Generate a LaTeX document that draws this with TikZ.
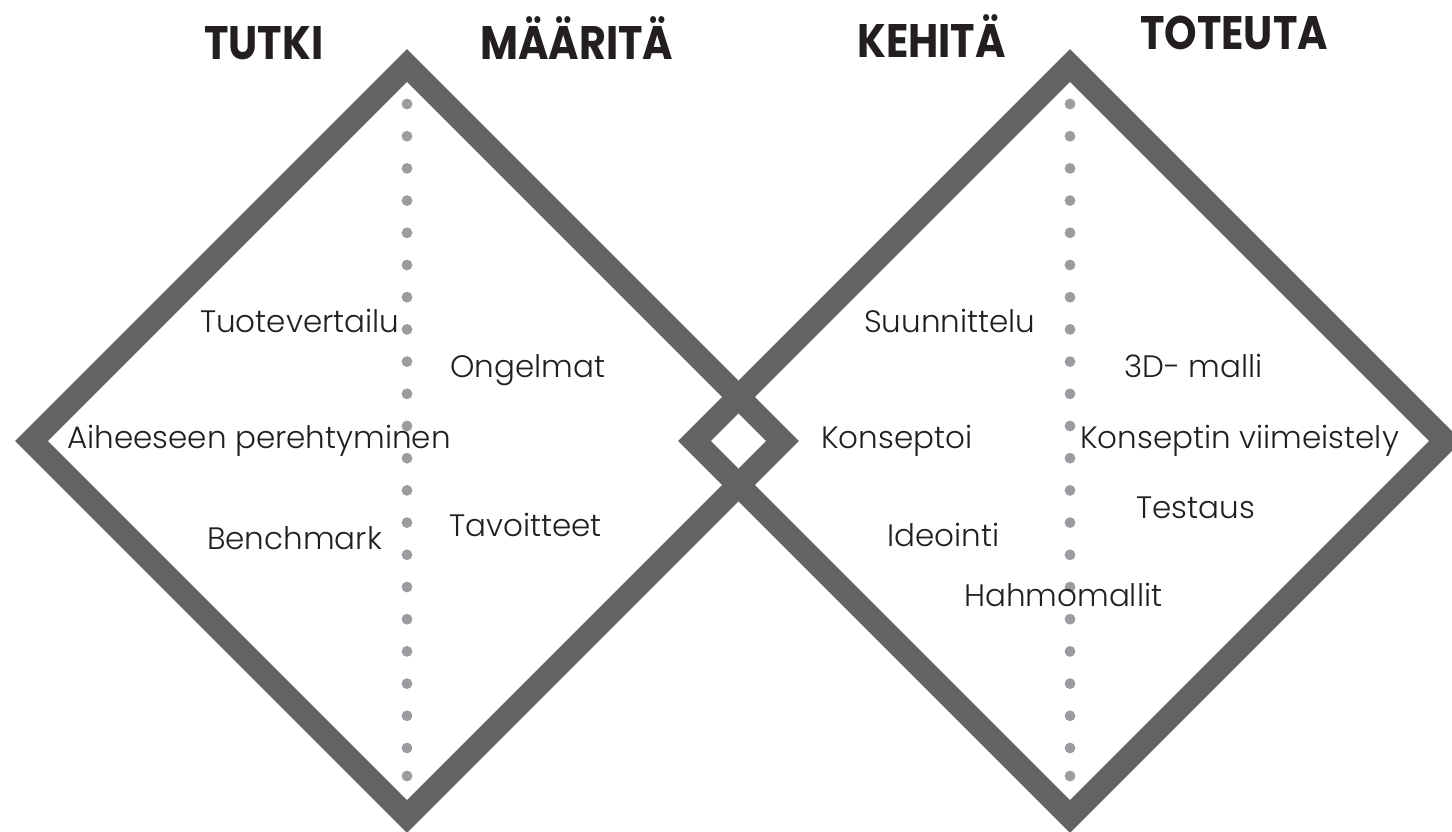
\documentclass[tikz,border=0pt]{standalone}
\usepackage{fontspec}
\setmainfont{Poppins}
\newfontfamily\itemfont{Poppins Light}
\usepackage{tikz}
\usetikzlibrary{positioning,calc}
\definecolor{framegray}{RGB}{99,99,101}
\definecolor{dotgray}{RGB}{155,155,160}
\definecolor{inkgray}{RGB}{35,31,32}
\newcommand{\phasetitle}[1]{\scalebox{0.88}[1]{#1}}

\begin{document}
\begin{tikzpicture}[
    x=1pt, y=-1pt,
    diamondline/.style={draw=framegray, line width=23.3pt, line join=miter, miter limit=10},
    dotmark/.style={fill=dotgray},
    headtext/.style={inner sep=0pt, anchor=base west, text=inkgray, font=\fontsize{47}{50}\selectfont\bfseries},
    itemtext/.style={inner sep=0pt, anchor=base west, text=inkgray, font=\itemfont\fontsize{31}{36}\selectfont}
  ]
  \useasboundingbox (0,0) rectangle (1452,832);

  \coordinate (tutcenter) at (407,441);
  \coordinate (kehcenter) at (1070,441);

  \draw[diamondline] ($(tutcenter)+(0,-375.5)$) -- ($(tutcenter)+(375.5,0)$) -- ($(tutcenter)+(0,375.5)$) -- ($(tutcenter)+(-375.5,0)$) -- cycle;
  \draw[diamondline] ($(kehcenter)+(0,-375.5)$) -- ($(kehcenter)+(375.5,0)$) -- ($(kehcenter)+(0,375.5)$) -- ($(kehcenter)+(-375.5,0)$) -- cycle;

  \foreach \k in {0,...,20} {
    \fill[dotmark] ($(tutcenter)+(0,-337+32.2*\k)$) circle (5.4);
    \fill[dotmark] ($(kehcenter)+(0,-337+32.2*\k)$) circle (5.4);
  }
  \fill[dotmark] ($(tutcenter)+(0,335)$) circle (5.4);
  \fill[dotmark] ($(kehcenter)+(0,335)$) circle (5.4);

  \node[headtext] (tutki) at (204,60) {\phasetitle{TUTKI}};
  \node[headtext] (maarita) at (480,60) {\phasetitle{MÄÄRITÄ}};
  \node[headtext] (kehita) at (857,58) {\phasetitle{KEHITÄ}};
  \node[headtext] (toteuta) at (1140,50) {\phasetitle{TOTEUTA}};

  \node[itemtext] (tuote) at (200,332) {Tuotevertailu};
  \node[itemtext] (ongelmat) at (450,377) {Ongelmat};
  \node[itemtext] (aihe) at (67,448) {Aiheeseen perehtyminen};
  \node[itemtext] (bench) at (207,549) {Benchmark};
  \node[itemtext] (tavoite) at (449,536) {Tavoitteet};

  \node[itemtext] (suunn) at (864,332) {Suunnittelu};
  \node[itemtext] (malli) at (1124,377) {3D- malli};
  \node[itemtext] (konsepto) at (821,448) {Konseptoi};
  \node[itemtext] (viimeist) at (1080,448) {Konseptin viimeistely};
  \node[itemtext] (testaus) at (1136,518) {Testaus};
  \node[itemtext] (ideointi) at (887,546) {Ideointi};
  \node[itemtext] (hahmo) at (964,606) {Hahmomallit};
\end{tikzpicture}
\end{document}
